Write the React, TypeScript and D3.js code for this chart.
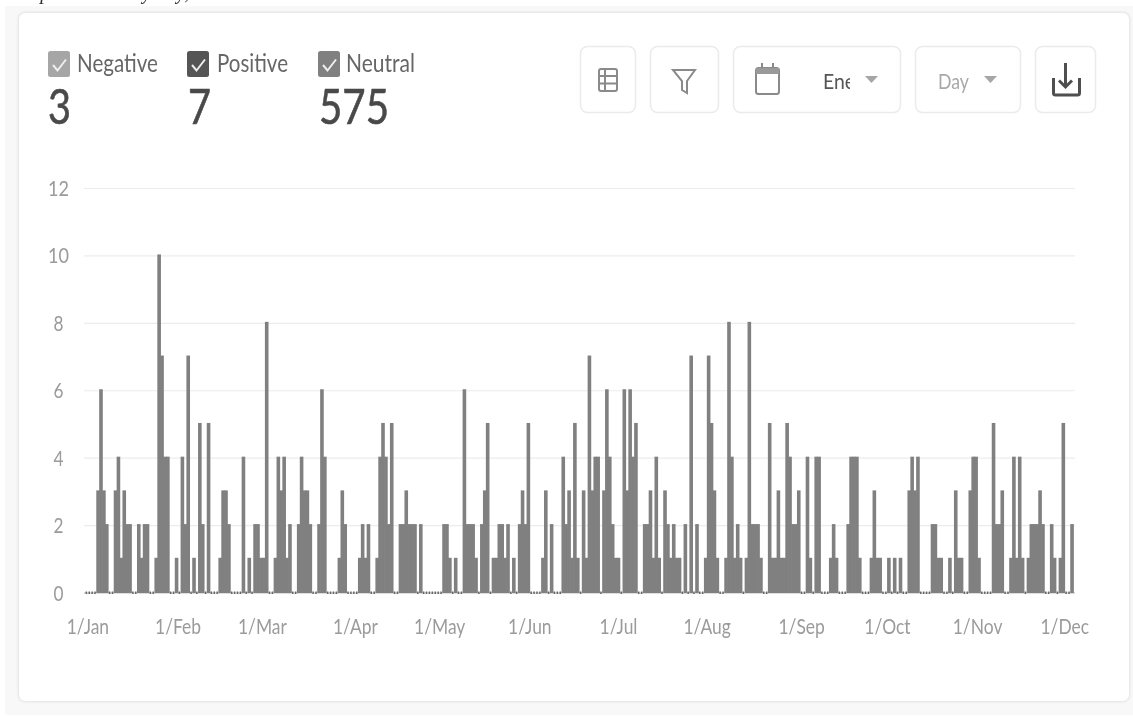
import React from "react";
import * as d3 from "d3";

const counts: number[] = [
0,0,0,0,
3,6,3,2,0,0,3,4,1,3,2,2,0,0,2,1,2,2,0,0,1,10,7,4,4,0,0,1,0,4,2,7,0,1,0,5,2,0,5,0,0,0,1,3,3,2,0,0,0,0,4,0,1,0,2,2,1,1,8,0,0,
1,4,3,4,1,2,0,0,2,4,3,3,2,0,0,2,6,4,0,0,0,0,1,3,2,0,0,0,0,1,2,1,2,0,0,1,4,5,4,2,5,0,0,2,2,3,2,2,2,0,2,0,0,0,0,0,0,0,2,2,1,0,1,0,0,6,
2,2,2,1,0,2,3,5,0,1,1,2,2,1,2,0,1,0,2,3,2,5,0,0,0,0,1,3,0,2,0,0,0,4,2,3,1,5,1,0,3,1,7,3,4,4,0,3,6,4,2,1,1,0,6,3,6,4,5,0,0,2,2,3,1,4,1,
0,3,2,1,2,1,1,0,2,0,7,0,2,0,0,1,7,5,3,1,0,0,1,8,4,1,2,1,0,1,8,2,2,2,1,0,0,5,1,1,3,1,1,5,4,2,2,3,0,0,4,1,0,4,4,0,0,0,1,2,1,0,0,0,
2,4,4,4,1,0,0,0,1,3,1,1,0,0,1,0,1,0,1,0,0,3,4,3,4,0,0,0,0,2,2,1,1,0,0,1,0,3,1,1,0,0,3,4,4,1,0,0,0,0,5,2,2,3,0,0,1,4,1,4,1,0,1,2,2,2,3,2,0,0,2,1,0,1,5,0,0,2,
];
const tickLabels = ["1/Jan","1/Feb","1/Mar","1/Apr","1/May","1/Jun","1/Jul","1/Aug","1/Sep","1/Oct","1/Nov","1/Dec"];
const tickSlots = [1,32,61,93,122,153,183.5,214,246.5,276,307,337];
const yTicks = [0,2,4,6,8,10,12];
const legendNames = ["Negative","Positive","Neutral"];
const legendTotals = [3,7,575];
const legendColors = ["#a6a6a6","#555555","#808080"];

const FONT = "Lato, sans-serif";

function Box({x,y,w,h}:{x:number;y:number;w:number;h:number}) {
  return <rect x={x+.5} y={y+.5} width={w} height={h} rx={7} fill="#fff" stroke="#ebebeb" strokeWidth={1.5}/>;
}

export default function App() {
  const x = d3.scaleLinear().domain([0, counts.length]).range([85, 1073.5]);
  const y = d3.scaleLinear().domain([0, 12]).range([593, 188.5]);
  const legX = [48, 187, 318];
  const legTextX = [77, 217, 346];
  const legW = [81, 71, 69];
  const numX = [48, 188, 319];
  const numW = [23, 23, 70];
  return (
    <svg width={1133} height={717} viewBox="0 0 1133 717" style={{position:"absolute",left:0,top:0,background:"#fff"}} fontFamily={FONT}>
      <defs>
        <filter id="soft" x="0" y="0" width="100%" height="100%"><feGaussianBlur stdDeviation="0.6"/></filter>
        <filter id="shadow" x="-2%" y="-2%" width="104%" height="104%"><feGaussianBlur stdDeviation="1"/></filter>
        <clipPath id="eneClip"><rect x={815} y={60} width={35} height={40}/></clipPath>
      </defs>
      <g filter="url(#soft)">
        <rect x={5} y={6} width={1128} height={709} fill="#f8f8f8"/>
        <rect x={18} y={12} width={1112} height={690} rx={7} fill="#e2e2e2" filter="url(#shadow)"/>
        <rect x={19} y={13} width={1110} height={688} rx={6} fill="#fff"/>
        <text x={21} y={-1} fontFamily="'Liberation Serif', serif" fontStyle="italic" fontSize={20} fill="#333">Top mentions by day,</text>

        {legendNames.map((n,i)=>(
          <g key={n}>
            <rect x={legX[i]} y={51} width={22} height={26} rx={2.5} fill={legendColors[i]}/>
            <path d={`M${legX[i]+5} ${65}l4.500 5.500l8.500-11`} fill="none" stroke="#eee" strokeWidth={2}/>
            <text x={legTextX[i]} y={72} fontSize={25} fill="#666" textLength={legW[i]} lengthAdjust="spacingAndGlyphs">{n}</text>
            <text x={numX[i]} y={124} fontSize={49} fill="#4a4a4a" stroke="#4a4a4a" strokeWidth={0.6} textLength={numW[i]} lengthAdjust="spacingAndGlyphs">{legendTotals[i]}</text>
          </g>
        ))}

        <Box x={580} y={46} w={55} h={66}/>
        <Box x={650} y={46} w={68} h={66}/>
        <Box x={733} y={46} w={167} h={66}/>
        <Box x={915} y={46} w={105} h={66}/>
        <Box x={1035} y={46} w={60} h={66}/>
        <g fill="none" stroke="#8a8a8a" strokeWidth={2}>
          <rect x={599} y={69} width={18} height={22} rx={2}/>
          <path d="M599 76h18M599 83.500h18M605 69v22"/>
          <path d="M673 70h22l-8 11v12l-5-3v-9z"/>
          <rect x={756} y={68} width={23} height={26} rx={2.500}/>
          <path d="M762 63v8M773 63v8" strokeWidth={2}/>
          <path d="M756 68h23v6h-23z" fill="#9a9a9a" stroke="none"/>
        </g>
        <text x={823} y={89} fontSize={21} fill="#555" textLength={32} lengthAdjust="spacingAndGlyphs" clipPath="url(#eneClip)">Ene</text>
        <path d="M865 76h13l-6.500 7z" fill="#a6a6a6"/>
        <text x={938} y={89} fontSize={21} fill="#a8a8a8" textLength={31} lengthAdjust="spacingAndGlyphs">Day</text>
        <path d="M984 76h13l-6.500 7z" fill="#a6a6a6"/>
        <g fill="none" stroke="#4f4f4f" strokeWidth={3}>
          <path d="M1053.500 78v15a2 2 0 0 0 2 2h22a2 2 0 0 0 2-2v-15"/>
          <path d="M1065.500 63v24M1059 80.500l6.500 6.500l6.500-6.500"/>
        </g>

        {yTicks.map(t=>(
          <g key={t}>
            {t>0 && <line x1={84} x2={1075} y1={y(t)} y2={y(t)} stroke="#ececec" strokeWidth={1.2}/>}
            <text x={58.500} y={y(t)+7.500} textAnchor="middle" fontSize={21} fill="#9b9b9b" textLength={t>=10?21:10} lengthAdjust="spacingAndGlyphs">{t}</text>
          </g>
        ))}
        <line x1={84} x2={1075} y1={593} y2={593} stroke="#bbbbbb" strokeWidth={1}/>
        {counts.map((c,i)=> c>0 ? (
          <rect key={i} x={x(i)-.35} y={y(c)-1.5} width={x(i+1)-x(i)+.7} height={y(0)-y(c)+1.5} fill="#808080"/>
        ) : null)}
        {counts.map((c,i)=> c===0 ? <rect key={i} x={x(i)+.6} y={591.500} width={1.5} height={2.5} fill="#666"/> : null)}
        {tickLabels.map((l,i)=>(
          <text key={l} transform={`translate(${x(tickSlots[i])},634) scale(0.83,1)`} textAnchor="middle" fontSize={21} fill="#9b9b9b">{l}</text>
        ))}
      </g>
    </svg>
  );
}
